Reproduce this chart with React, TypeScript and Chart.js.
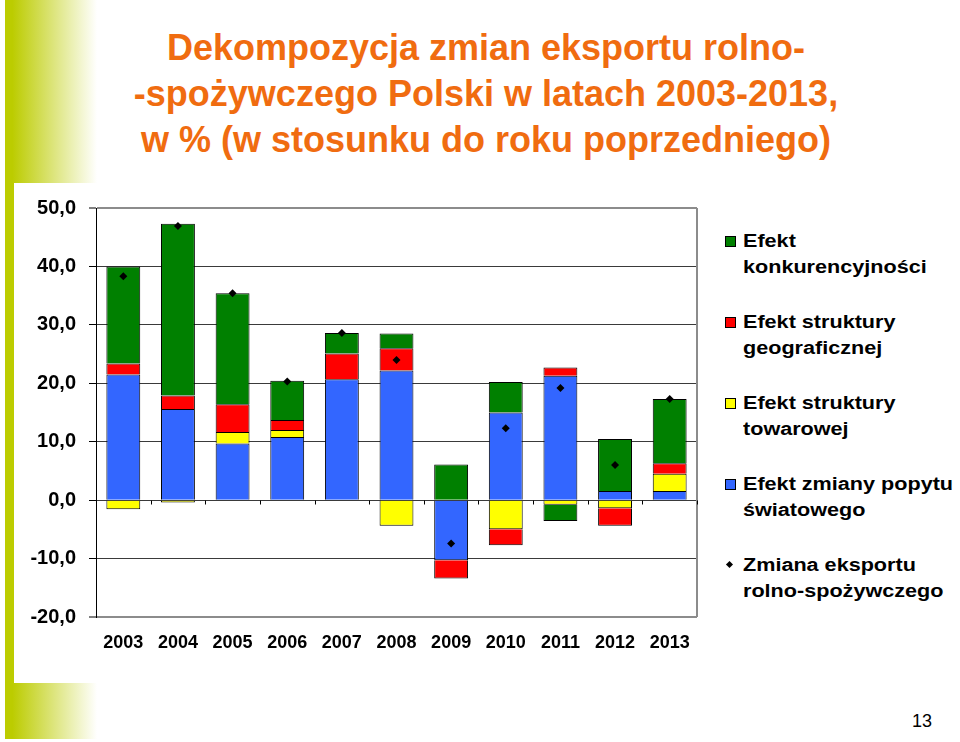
import React, { useEffect, useRef } from 'react';
import { Chart, registerables } from 'chart.js';

Chart.register(...registerables);

// ---- data ----
const years = ['2003', '2004', '2005', '2006', '2007', '2008', '2009', '2010', '2011', '2012', '2013'];
const worldDemand = [21.5, 15.6, 9.7, 10.8, 20.7, 22.2, -10.3, 15.0, 21.3, 1.55, 1.55];
const productStructure = [-1.55, -0.4, 1.95, 1.2, -0.1, -4.4, 0, -5.0, -0.8, -1.4, 2.95];
const geoStructure = [1.9, 2.3, 4.75, 1.7, 4.4, 3.8, -3.1, -2.7, 1.4, -3.0, 1.8];
const competitiveness = [16.6, 29.4, 19.0, 6.75, 3.5, 2.5, 6.1, 5.2, -2.75, 8.9, 11.0];
const exportChange = [38.3, 46.9, 35.4, 20.3, 28.6, 24.0, -7.4, 12.3, 19.2, 6.0, 17.3];

const titleLines = [
  'Dekompozycja zmian eksportu rolno-',
  '-spożywczego Polski w latach 2003-2013,',
  'w % (w stosunku do roku poprzedniego)',
];

const labelCompetitiveness = ['Efekt', 'konkurencyjności'];
const labelGeo = ['Efekt struktury', 'geograficznej'];
const labelProduct = ['Efekt struktury', 'towarowej'];
const labelDemand = ['Efekt zmiany popytu', 'światowego'];
const labelExport = ['Zmiana eksportu', 'rolno-spożywczego'];

const pageNumber = '13';

const GREEN = '#008000';
const RED = '#FF0000';
const YELLOW = '#FFFF00';
const BLUE = '#3366FF';
const LIME = 'rgb(188,204,0)';
const ORANGE = 'rgb(240,108,16)';
const FONT = "'Liberation Sans', Arial, Helvetica, sans-serif";

const legendEntries = [
  { lines: labelCompetitiveness, color: GREEN, kind: 'box' },
  { lines: labelGeo, color: RED, kind: 'box' },
  { lines: labelProduct, color: YELLOW, kind: 'box' },
  { lines: labelDemand, color: BLUE, kind: 'box' },
  { lines: labelExport, color: '#000', kind: 'diamond' },
];

const framePlugin = {
  id: 'frameAndZeroTicks',
  beforeDatasetsDraw(chart: any) {
    const { ctx, chartArea, scales } = chart;
    const x = scales.x;
    const y = scales.y;
    ctx.save();
    // right frame edge
    ctx.strokeStyle = '#8c8c8c';
    ctx.lineWidth = 2;
    ctx.beginPath();
    ctx.moveTo(chartArea.right, chartArea.top);
    ctx.lineTo(chartArea.right, chartArea.bottom);
    ctx.stroke();
    // tick marks on the zero line at category boundaries
    const y0 = Math.round(y.getPixelForValue(0)) + 0.5;
    const n = x.ticks.length;
    const w = (chartArea.right - chartArea.left) / n;
    ctx.strokeStyle = '#000';
    ctx.lineWidth = 1;
    ctx.beginPath();
    for (let k = 1; k <= n; k++) {
      const bx = Math.round(chartArea.left + k * w) + 0.5;
      ctx.moveTo(bx, y0);
      ctx.lineTo(bx, y0 + 4);
    }
    ctx.stroke();
    ctx.restore();
  },
};

function ChartCanvas() {
  const ref = useRef<HTMLCanvasElement | null>(null);
  useEffect(() => {
    if (!ref.current) return;
    const barCommon = { borderColor: '#000', borderWidth: 1, categoryPercentage: 1, barPercentage: 0.62, order: 1, stack: 'bars' };
    const chart = new Chart(ref.current, {
      type: 'bar',
      data: {
        labels: years,
        datasets: [
          { ...barCommon, label: labelDemand.join(' '), data: worldDemand, backgroundColor: BLUE },
          { ...barCommon, label: labelProduct.join(' '), data: productStructure, backgroundColor: YELLOW },
          { ...barCommon, label: labelGeo.join(' '), data: geoStructure, backgroundColor: RED },
          { ...barCommon, label: labelCompetitiveness.join(' '), data: competitiveness, backgroundColor: GREEN },
          {
            type: 'line',
            label: labelExport.join(' '),
            data: exportChange,
            showLine: false,
            pointStyle: 'rectRot',
            pointRadius: 4,
            pointBackgroundColor: '#000',
            pointBorderColor: '#000',
            pointBorderWidth: 0,
            borderColor: '#000',
            backgroundColor: '#000',
            order: 0,
            stack: 'points',
          } as any,
        ],
      },
      options: {
        animation: false,
        responsive: false,
        layout: { padding: { left: 0, right: 13, top: 18, bottom: 0 } },
        plugins: { legend: { display: false }, tooltip: { enabled: false }, title: { display: false } },
        scales: {
          x: {
            stacked: true,
            grid: { display: false, drawTicks: false },
            border: { display: false },
            ticks: { color: '#000', font: { family: FONT, size: 18, weight: 'bold' }, padding: 15, maxRotation: 0 },
            afterFit: (s: any) => { s.height = 43; },
          },
          y: {
            stacked: true,
            min: -20,
            max: 50,
            ticks: {
              stepSize: 10,
              color: '#000',
              padding: 13,
              font: { family: FONT, size: 20, weight: 'bold' },
              callback: (v: any) => Number(v).toFixed(1).replace('.', ','),
            },
            grid: {
              color: (c: any) => (c.tick && (c.tick.value === 50 || c.tick.value === -20) ? '#8c8c8c' : '#3a3a3a'),
              lineWidth: (c: any) => (c.tick && (c.tick.value === 50 || c.tick.value === -20) ? 2 : 1),
              tickColor: '#000',
              tickLength: 7,
              tickWidth: 1,
            },
            border: { color: '#000', width: 1 },
            afterFit: (s: any) => { s.width = 96; },
          },
        },
      } as any,
      plugins: [framePlugin],
    });
    return () => chart.destroy();
  }, []);
  return <canvas ref={ref} width={710} height={477} style={{ position: 'absolute', left: 0, top: 183, width: 710, height: 477 }} />;
}

export default function App() {
  return (
    <div style={{ position: 'absolute', left: 0, top: 0, width: 960, height: 742, background: '#fff', overflow: 'hidden', fontFamily: FONT }}>
      {/* decorative strips */}
      <div style={{ position: 'absolute', left: 5, top: 0, width: 92, height: 183, background: `linear-gradient(to right, ${LIME} 8%, #ffffff 100%)` }} />
      <div style={{ position: 'absolute', left: 5, top: 183, width: 9, height: 500, background: LIME }} />
      <div style={{ position: 'absolute', left: 5, top: 683, width: 92, height: 56, background: `linear-gradient(to right, ${LIME} 8%, #ffffff 100%)` }} />

      {/* title */}
      <div style={{ position: 'absolute', left: 12, top: 24.5, width: 948, textAlign: 'center', color: ORANGE, fontSize: 36, fontWeight: 'bold', lineHeight: '46px' }}>
        {titleLines.map((t, i) => (<div key={i}>{t}</div>))}
      </div>

      <ChartCanvas />

      {/* legend */}
      {legendEntries.map((e, i) => (
        <div key={i} style={{ position: 'absolute', left: 723, top: 228 + i * 81, height: 52 }}>
          {e.kind === 'box' ? (
            <div style={{ position: 'absolute', left: 2, top: 8, width: 9, height: 9, background: e.color, border: '1px solid #000' }} />
          ) : (
            <div style={{ position: 'absolute', left: 4, top: 10, width: 5, height: 5, background: '#000', transform: 'rotate(45deg)' }} />
          )}
          <div style={{ position: 'absolute', left: 20, top: 0, whiteSpace: 'nowrap', fontSize: 18, fontWeight: 'bold', lineHeight: '26px', color: '#000', transform: 'scaleX(1.2)', transformOrigin: 'left top' }}>
            {e.lines.map((l, j) => (<div key={j}>{l}</div>))}
          </div>
        </div>
      ))}

      {/* page number */}
      <div style={{ position: 'absolute', left: 912, top: 711, fontSize: 18, lineHeight: '20px', color: '#000' }}>{pageNumber}</div>
    </div>
  );
}
